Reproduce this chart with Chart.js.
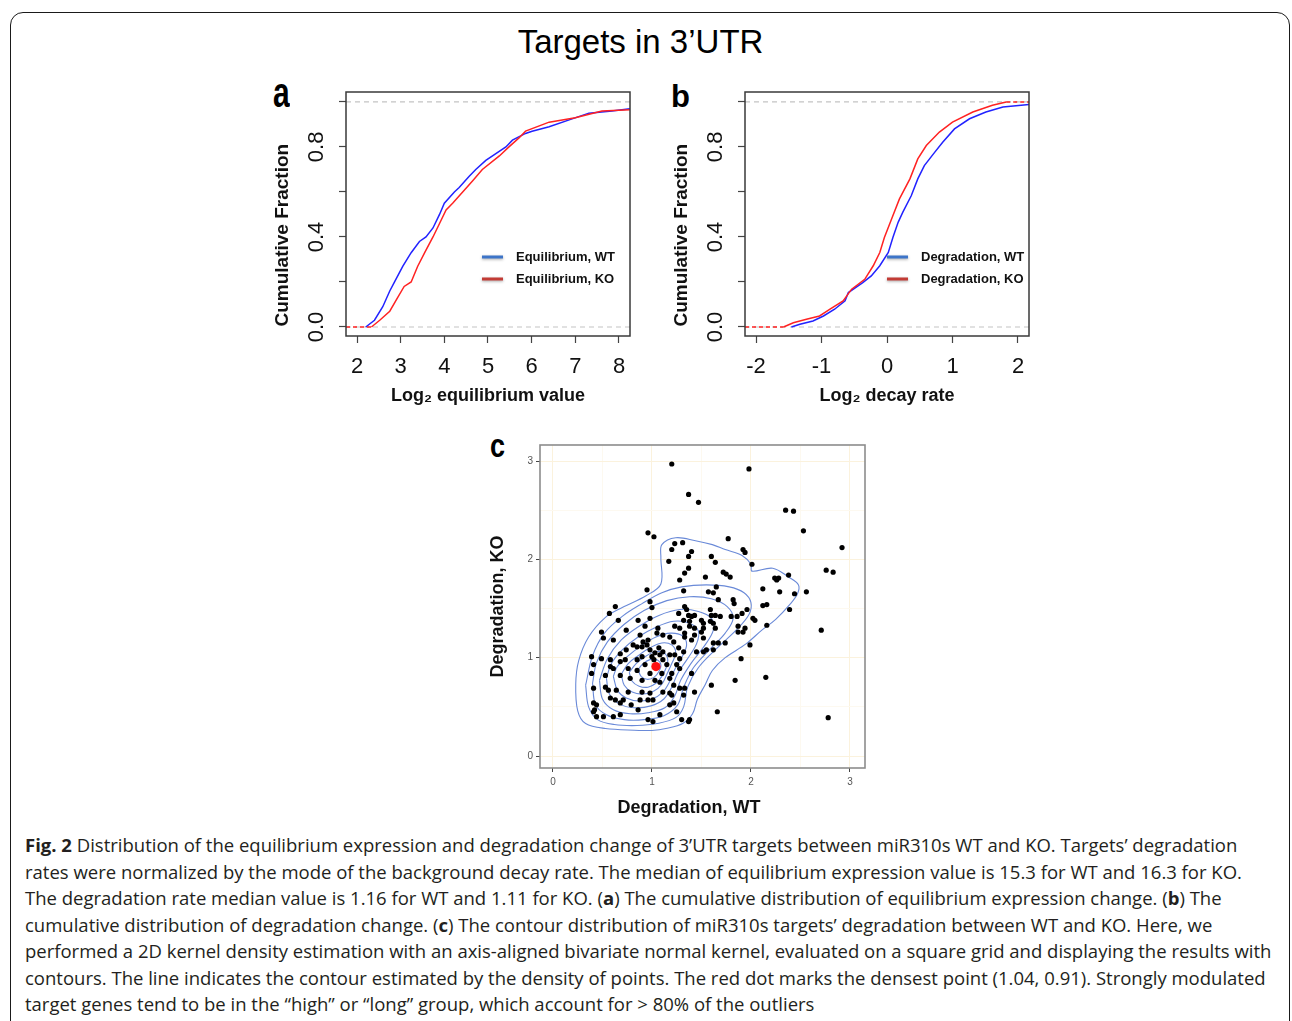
<!DOCTYPE html>
<html><head><meta charset="utf-8">
<script src="https://cdn.jsdelivr.net/npm/chart.js@4.4.1/dist/chart.umd.min.js"></script>
<style>
html,body{margin:0;padding:0;background:#fff;}
body{width:1292px;height:1021px;position:relative;overflow:hidden;font-family:"Liberation Sans",Arial,sans-serif;}
.frame{position:absolute;left:10px;top:12px;width:1280px;height:1040px;border:1.5px solid #1a1a1a;border-radius:13px;box-sizing:border-box;}
.title{position:absolute;left:0;width:1281px;top:22px;text-align:center;font-size:33px;line-height:40px;color:#000;}
.lbl{position:absolute;font-weight:bold;color:#000;line-height:1;transform-origin:0 84.65%;}
canvas{position:absolute;}
.cap{position:absolute;left:25px;top:832px;font-family:"Open Sans",sans-serif;font-size:18.5px;line-height:26.5px;color:#231f20;white-space:nowrap;}
</style></head>
<body>
<div class="frame"></div>
<div class="title">Targets in 3’UTR</div>
<div class="lbl" style="left:273px;top:81.6px;font-size:30px;transform:scaleY(1.4)">a</div>
<div class="lbl" style="left:671px;top:80.8px;font-size:31px;">b</div>
<div class="lbl" style="left:490px;top:435px;font-size:27px;transform:scaleY(1.22)">c</div>
<canvas id="ca" width="380" height="330" style="left:262px;top:80px"></canvas>
<canvas id="cb" width="380" height="330" style="left:662px;top:80px"></canvas>
<canvas id="cc" width="400" height="400" style="left:480px;top:430px"></canvas>
<div class="cap"><b>Fig. 2</b> Distribution of the equilibrium expression and degradation change of 3’UTR targets between miR310s WT and KO. Targets’ degradation<br>rates were normalized by the mode of the background decay rate. The median of equilibrium expression value is 15.3 for WT and 16.3 for KO.<br>The degradation rate median value is 1.16 for WT and 1.11 for KO. (<b>a</b>) The cumulative distribution of equilibrium expression change. (<b>b</b>) The<br>cumulative distribution of degradation change. (<b>c</b>) The contour distribution of miR310s targets’ degradation between WT and KO. Here, we<br>performed a 2D kernel density estimation with an axis-aligned bivariate normal kernel, evaluated on a square grid and displaying the results with<br>contours. The line indicates the contour estimated by the density of points. The red dot marks the densest point (1.04, 0.91). Strongly modulated<br>target genes tend to be in the “high” or “long” group, which account for &gt; 80% of the outliers</div>
<script>
// ---------- Panel a: ECDF of log2 equilibrium value ----------
const A_WT_X = [2.20,2.40,2.59,2.75,2.86,3.05,3.24,3.43,3.58,3.74,3.89,4.00,4.23,4.34,4.57,4.72,4.95,5.18,5.41,5.56,5.86,6.01,6.40,6.86,7.31,7.84,8.25];
const A_WT_F = [0.00,0.03,0.09,0.16,0.20,0.27,0.33,0.38,0.40,0.44,0.50,0.55,0.60,0.62,0.67,0.70,0.74,0.77,0.80,0.83,0.86,0.87,0.89,0.92,0.95,0.96,0.97];
const A_KO_X = [2.33,2.52,2.75,2.93,3.08,3.24,3.39,3.55,3.74,3.89,4.04,4.19,4.42,4.65,4.87,5.26,5.48,5.71,5.86,6.40,7.00,7.61,8.25];
const A_KO_F = [0.00,0.03,0.07,0.13,0.18,0.20,0.27,0.33,0.40,0.46,0.52,0.55,0.60,0.65,0.70,0.76,0.80,0.84,0.87,0.91,0.93,0.96,0.965];
const A_X_TICKS = [2,3,4,5,6,7,8];
// ---------- Panel b: ECDF of log2 decay rate ----------
const B_WT_X = [-1.46,-1.33,-1.13,-0.97,-0.80,-0.64,-0.59,-0.37,-0.24,-0.11,0.02,0.09,0.17,0.24,0.37,0.47,0.57,0.73,0.85,1.03,1.26,1.51,1.77,2.17];
const B_WT_F = [0.00,0.012,0.027,0.049,0.079,0.116,0.153,0.197,0.227,0.272,0.331,0.398,0.465,0.509,0.583,0.658,0.717,0.777,0.821,0.88,0.925,0.955,0.977,0.989];
const B_KO_X = [-1.58,-1.43,-1.23,-1.03,-0.87,-0.67,-0.54,-0.34,-0.21,-0.11,-0.04,0.07,0.19,0.35,0.47,0.60,0.80,1.00,1.31,1.61,1.82];
const B_KO_F = [0.00,0.019,0.034,0.049,0.079,0.116,0.168,0.212,0.272,0.331,0.398,0.48,0.569,0.658,0.747,0.806,0.866,0.91,0.955,0.985,1.0];
const B_X_TICKS = [-2,-1,0,1,2];
const Y_LABEL_TICKS = ['0.0','0.4','0.8'];
// ---------- Panel c: degradation WT vs KO ----------
const C_WT = [
 1.20,1.98,1.37,1.47,2.35,2.43,2.53,2.92,0.96,1.02,
 1.77,2.76,2.83,2.71,2.15,2.78,1.66,1.84,1.90,1.99,
 2.56,2.44,2.29,2.39,2.38,2.24,2.28,2.26,2.12,2.16,
 2.12,2.16,2.01,1.92,1.94,1.72,1.75,1.79,1.64,1.60,
 1.54,1.57,1.62,1.65,1.23,1.31,1.20,1.17,1.37,1.40,
 1.33,1.37,1.28,0.95,1.32,1.82,1.83,1.67,0.63,0.57,
 0.98,1.00,0.66,0.86,0.98,0.74,0.49,0.51,0.93,1.06,
 1.05,1.11,0.88,0.61,0.81,0.85,0.90,0.95,0.98,0.74,
 0.68,0.39,0.49,0.58,0.68,0.73,0.85,0.90,1.00,1.08,
 1.11,0.93,1.15,0.41,0.58,0.61,0.76,0.85,0.98,1.10,
 0.39,0.53,0.68,0.78,0.90,1.03,1.08,1.18,0.41,0.53,
 0.56,0.64,0.76,0.90,0.98,1.11,1.18,0.58,0.63,0.71,
 0.88,0.96,1.01,0.41,0.44,0.68,0.79,1.18,0.42,0.41,
 0.86,1.08,0.44,0.51,0.61,0.96,1.01,0.68,1.03,1.07,
 1.02,1.11,0.91,0.96,1.33,1.35,1.27,1.37,1.40,1.43,
 1.59,1.60,1.64,1.69,1.80,1.86,1.91,1.96,2.02,2.04,
 1.32,1.38,1.50,1.52,1.59,1.62,1.23,1.28,1.38,1.43,
 1.52,1.50,1.64,1.87,1.87,1.94,1.92,1.33,1.33,1.43,
 1.40,1.52,1.18,1.22,1.62,1.67,1.74,1.27,1.32,1.45,
 1.52,1.55,1.62,1.18,1.23,1.28,1.25,1.28,1.20,1.40,
 1.22,1.28,1.33,1.60,1.43,1.32,1.20,1.22,1.25,1.30,
 1.37,1.38];
const C_KO = [
 2.97,2.92,2.66,2.58,2.50,2.49,2.29,2.12,2.27,2.23,
 2.21,1.89,1.87,1.28,0.80,0.39,0.45,0.77,0.99,1.13,
 1.67,1.65,1.67,1.49,1.84,1.81,1.81,1.79,1.70,1.33,
 1.53,1.54,1.95,2.10,2.07,1.87,1.85,1.82,1.97,2.03,
 1.82,1.67,1.66,1.72,2.16,2.17,2.10,1.98,2.03,2.08,
 1.86,1.91,1.79,1.69,1.68,1.59,1.55,1.59,1.52,1.45,
 1.57,1.51,1.38,1.38,1.40,1.28,1.26,1.20,1.32,1.30,
 1.25,1.23,1.23,1.18,1.13,1.11,1.11,1.13,1.08,1.08,
 1.04,1.01,0.99,0.98,0.96,0.98,0.98,1.01,1.01,1.03,
 0.98,0.93,0.93,0.93,0.91,0.89,0.89,0.87,0.84,0.84,
 0.84,0.82,0.82,0.79,0.77,0.77,0.75,0.79,0.69,0.70,
 0.67,0.67,0.65,0.65,0.64,0.65,0.64,0.59,0.57,0.57,
 0.57,0.57,0.57,0.54,0.52,0.54,0.52,0.52,0.47,0.45,
 0.47,0.42,0.40,0.40,0.40,0.37,0.35,0.42,1.05,1.10,
 0.98,1.06,1.16,1.18,1.52,1.49,1.45,1.43,1.42,1.43,
 1.49,1.43,1.43,1.42,1.42,1.42,1.45,1.49,1.40,1.38,
 1.38,1.37,1.38,1.35,1.37,1.35,1.32,1.30,1.32,1.30,
 1.30,1.26,1.30,1.32,1.26,1.30,1.26,1.25,1.21,1.23,
 1.18,1.20,1.21,1.16,1.15,1.15,1.15,1.10,1.06,1.06,
 1.06,1.08,1.08,1.03,1.03,0.99,0.93,0.89,0.84,0.84,
 0.72,0.69,0.69,0.72,0.65,0.62,0.62,0.54,0.45,0.37,
 0.35,0.37];
const C_PEAK_WT = [1.04];
const C_PEAK_KO = [0.91];
// density contours (outer to inner)
const CT1_X = [0.87,0.53,0.33,0.25,0.23,0.26,0.36,0.53,0.70,0.94,1.09,1.09,1.10,1.24,1.44,1.61,1.74,1.91,2.00,2.01,2.22,2.38,2.48,2.47,2.40,2.25,2.11,1.95,1.74,1.61,1.54,1.46,1.41,1.31,1.14,1.00,0.87];
const CT1_Y = [0.26,0.28,0.33,0.46,0.73,0.97,1.21,1.41,1.51,1.63,1.75,2.02,2.15,2.22,2.19,2.15,2.10,2.04,1.95,1.88,1.91,1.82,1.74,1.65,1.55,1.39,1.28,1.14,1.00,0.87,0.73,0.58,0.43,0.33,0.28,0.26,0.26];
const CT2_X = [0.33,0.36,0.45,0.62,0.85,1.05,1.24,1.32,1.36,1.47,1.66,1.85,1.98,2.00,1.93,1.78,1.55,1.30,1.10,0.90,0.70,0.52,0.40,0.33];
const CT2_Y = [0.72,0.50,0.37,0.32,0.31,0.33,0.39,0.50,0.70,0.90,1.10,1.28,1.44,1.56,1.66,1.72,1.74,1.72,1.66,1.55,1.42,1.25,1.02,0.72];
const CT3_X = [0.40,0.43,0.54,0.72,0.92,1.12,1.26,1.32,1.42,1.58,1.74,1.82,1.76,1.60,1.38,1.15,0.92,0.72,0.55,0.44,0.40];
const CT3_Y = [0.74,0.52,0.42,0.37,0.37,0.41,0.52,0.70,0.90,1.08,1.25,1.40,1.52,1.60,1.62,1.58,1.48,1.34,1.16,0.95,0.74];
const CT4_X = [0.47,0.50,0.61,0.78,0.96,1.13,1.23,1.29,1.40,1.53,1.62,1.60,1.47,1.28,1.07,0.87,0.69,0.55,0.47];
const CT4_Y = [0.77,0.58,0.47,0.43,0.44,0.49,0.61,0.77,0.95,1.12,1.28,1.40,1.47,1.49,1.43,1.32,1.18,0.99,0.77];
const CT5_X = [0.54,0.57,0.67,0.82,0.99,1.12,1.20,1.26,1.36,1.45,1.47,1.38,1.22,1.04,0.86,0.70,0.59,0.54];
const CT5_Y = [0.79,0.63,0.53,0.49,0.51,0.58,0.70,0.84,0.99,1.14,1.27,1.35,1.37,1.31,1.21,1.08,0.94,0.79];
const CT6_X = [0.61,0.65,0.74,0.87,1.00,1.11,1.18,1.23,1.30,1.35,1.31,1.19,1.04,0.89,0.75,0.65,0.61];
const CT6_Y = [0.81,0.67,0.59,0.56,0.58,0.65,0.76,0.88,1.00,1.13,1.22,1.25,1.21,1.12,1.01,0.91,0.81];
const CT7_X = [0.69,0.72,0.80,0.91,1.02,1.10,1.15,1.20,1.24,1.20,1.10,0.98,0.86,0.76,0.69];
const CT7_Y = [0.83,0.72,0.65,0.63,0.66,0.73,0.83,0.94,1.05,1.13,1.15,1.10,1.02,0.94,0.83];
const CT8_X = [0.77,0.80,0.87,0.96,1.04,1.10,1.14,1.16,1.12,1.03,0.93,0.84,0.77];
const CT8_Y = [0.85,0.76,0.71,0.70,0.74,0.81,0.89,0.98,1.05,1.06,1.01,0.94,0.85];
const CT9_X = [0.86,0.89,0.95,1.02,1.07,1.09,1.05,0.98,0.91,0.86];
const CT9_Y = [0.88,0.81,0.78,0.80,0.86,0.93,0.98,0.98,0.94,0.88];
const C_TICKS = [0,1,2,3];

// ---------- helpers ----------
const FONT = '"Liberation Sans", Arial, Helvetica, sans-serif';
Chart.defaults.font.family = FONT;
const zip = (xs, ys) => xs.map((x, i) => ({x, y: ys[i]}));
const noPad = s => { s.paddingTop = 0; s.paddingBottom = 0; s.paddingLeft = 0; s.paddingRight = 0; };

const framePlugin = {
  id: 'frame',
  afterDraw(chart, args, opts) {
    const {ctx, chartArea: a} = chart;
    ctx.save();
    ctx.strokeStyle = opts.color; ctx.lineWidth = opts.width;
    ctx.strokeRect(a.left, a.top, a.right - a.left, a.bottom - a.top);
    ctx.restore();
  }
};
const legendPlugin = {
  id: 'inLegend',
  afterDraw(chart, args, opts) {
    if (!opts.items) return;
    const {ctx, chartArea: a} = chart;
    ctx.save();
    opts.items.forEach((it, i) => {
      const ds = chart.data.datasets[it.index];
      const y = a.top + opts.top + i * opts.gap;
      const x0 = a.left + opts.left;
      ctx.shadowColor = 'rgba(0,0,0,0.35)'; ctx.shadowBlur = 3; ctx.shadowOffsetY = 1;
      ctx.strokeStyle = it.color; ctx.lineWidth = 3;
      ctx.beginPath(); ctx.moveTo(x0, y); ctx.lineTo(x0 + opts.len, y); ctx.stroke();
      ctx.shadowColor = 'rgba(0,0,0,0)'; ctx.shadowBlur = 0; ctx.shadowOffsetY = 0;
      ctx.fillStyle = '#111'; ctx.font = 'bold 13px ' + FONT; ctx.textBaseline = 'middle';
      ctx.fillText(ds.label, x0 + opts.len + 13, y);
    });
    ctx.restore();
  }
};

function ecdfChart(id, o) {
  const xmin = o.xmin, xmax = o.xmax;
  const ko = [{x: xmin, y: 0}, ...zip(o.koX, o.koF)];
  const lastKo = o.koF[o.koF.length - 1];
  if (lastKo >= 1) ko.push({x: xmax, y: 1});
  const nKo = ko.length;
  const tickGrid = {drawOnChartArea: false, drawTicks: true, tickLength: 7, tickColor: '#444', tickWidth: 1.2};
  return new Chart(document.getElementById(id), {
    type: 'scatter',
    data: {datasets: [
      {label: o.koLabel, data: ko, showLine: true, borderColor: '#ff2222', borderWidth: 1.5, pointRadius: 0,
       segment: {borderDash: c => (c.p0DataIndex === 0 || (lastKo >= 1 && c.p1DataIndex === nKo - 1)) ? [4, 3] : undefined}},
      {label: o.wtLabel, data: zip(o.wtX, o.wtF), showLine: true, borderColor: '#2222ff', borderWidth: 1.5, pointRadius: 0},
      {label: 'ref0', data: [{x: xmin, y: 0}, {x: xmax, y: 0}], showLine: true, borderColor: '#c4c4c4', borderDash: [5, 4], borderWidth: 1.2, pointRadius: 0},
      {label: 'ref1', data: [{x: xmin, y: 1}, {x: xmax, y: 1}], showLine: true, borderColor: '#c4c4c4', borderDash: [5, 4], borderWidth: 1.2, pointRadius: 0}
    ]},
    options: {
      responsive: false, animation: false, devicePixelRatio: 1,
      layout: {padding: {left: 0, right: o.padRight, top: 12, bottom: 0}},
      plugins: {legend: {display: false}, tooltip: {enabled: false},
        frame: {color: '#3a3a3a', width: 1.5},
        inLegend: {left: o.legLeft, top: 165, gap: 22, len: 21,
          items: [{index: 1, color: '#3d74c8'}, {index: 0, color: '#c23b35'}]}},
      scales: {
        x: {type: 'linear', min: xmin, max: xmax,
          afterFit: s => { s.height = 74; noPad(s); },
          afterBuildTicks: s => { s.ticks = o.xTicks.map(v => ({value: v})); },
          ticks: {font: {size: 22}, color: '#111', padding: 11, maxRotation: 0, autoSkip: false,
            callback: v => String(v)},
          grid: tickGrid, border: {display: false},
          title: {display: true, text: o.xTitle, color: '#111', font: {size: 18, weight: 'bold'}, padding: {top: 0, bottom: 3}}},
        y: {type: 'linear', min: -0.04, max: 1.044,
          afterFit: s => { s.width = o.yWidth; noPad(s); },
          ticks: {stepSize: 0.2, includeBounds: false, minRotation: 90, maxRotation: 90, crossAlign: 'center',
            padding: 7, font: {size: 22}, color: '#111', autoSkip: false,
            callback: v => { const t = v.toFixed(1); return Y_LABEL_TICKS.includes(t) ? t : ''; }},
          grid: tickGrid, border: {display: false},
          title: {display: true, text: '\u2002Cumulative Fraction', align: 'start', color: '#111', font: {size: 19, weight: 'bold'}, padding: {top: o.yTitlePad, bottom: 0}}}
      }
    },
    plugins: [framePlugin, legendPlugin]
  });
}

ecdfChart('ca', {xmin: 1.748, xmax: 8.252, xTicks: A_X_TICKS, wtX: A_WT_X, wtF: A_WT_F, koX: A_KO_X, koF: A_KO_F,
  wtLabel: 'Equilibrium, WT', koLabel: 'Equilibrium, KO', xTitle: 'Log₂ equilibrium value',
  padRight: 12, yWidth: 84, yTitlePad: 9, legLeft: 136});
ecdfChart('cb', {xmin: -2.168, xmax: 2.168, xTicks: B_X_TICKS, wtX: B_WT_X, wtF: B_WT_F, koX: B_KO_X, koF: B_KO_F,
  wtLabel: 'Degradation, WT', koLabel: 'Degradation, KO', xTitle: 'Log₂ decay rate',
  padRight: 13, yWidth: 83, yTitlePad: 8, legLeft: 142});

// ---------- Panel c ----------
const contours = [[CT1_X, CT1_Y], [CT2_X, CT2_Y], [CT3_X, CT3_Y], [CT4_X, CT4_Y], [CT5_X, CT5_Y],
                  [CT6_X, CT6_Y], [CT7_X, CT7_Y], [CT8_X, CT8_Y], [CT9_X, CT9_Y]];
const isInt = v => Math.abs(v - Math.round(v)) < 1e-6;
const cGrid = {
  drawOnChartArea: true, drawTicks: true, tickLength: 4, lineWidth: 1,
  color: c => (c.tick && isInt(c.tick.value)) ? '#fbf2dd' : '#fdf9f0',
  tickColor: c => (c.tick && isInt(c.tick.value)) ? '#444' : 'rgba(0,0,0,0)'
};
new Chart(document.getElementById('cc'), {
  type: 'scatter',
  data: {datasets: [
    {label: 'densest point', data: zip(C_PEAK_WT, C_PEAK_KO), pointRadius: 4.6, backgroundColor: '#ff1010', borderWidth: 0},
    {label: 'targets', data: zip(C_WT, C_KO), pointRadius: 2.6, backgroundColor: '#000', borderWidth: 0},
    ...contours.map((c, i) => ({label: 'contour ' + (i + 1), data: zip(c[0], c[1]), showLine: true, pointRadius: 0,
      borderColor: '#6a8ad8', borderWidth: 1.1, tension: 0.35}))
  ]},
  options: {
    responsive: false, animation: false, devicePixelRatio: 1,
    layout: {padding: {left: 0, right: 15, top: 15, bottom: 0}},
    plugins: {legend: {display: false}, tooltip: {enabled: false}, frame: {color: '#8c8c8c', width: 1.6}},
    scales: {
      x: {type: 'linear', min: -0.131, max: 3.152,
        afterFit: s => { s.height = 62; noPad(s); },
        ticks: {stepSize: 0.5, includeBounds: false, font: {size: 10}, color: '#555', padding: 4, maxRotation: 0, autoSkip: false,
          callback: v => C_TICKS.includes(v) ? String(v) : ''},
        grid: cGrid, border: {display: false},
        title: {display: true, text: 'Degradation, WT\u2003\u2002', color: '#111', font: {size: 18, weight: 'bold'}, padding: {top: 0, bottom: 11}}},
      y: {type: 'linear', min: -0.122, max: 3.163,
        afterFit: s => { s.width = 60; noPad(s); },
        ticks: {stepSize: 0.5, includeBounds: false, font: {size: 10}, color: '#555', padding: 3, autoSkip: false,
          callback: v => C_TICKS.includes(v) ? String(v) : ''},
        grid: cGrid, border: {display: false},
        title: {display: true, text: 'Degradation, KO', color: '#111', font: {size: 18, weight: 'bold'}, padding: {top: 7, bottom: 0}}}
    }
  },
  plugins: [framePlugin]
});
</script>
</body></html>
